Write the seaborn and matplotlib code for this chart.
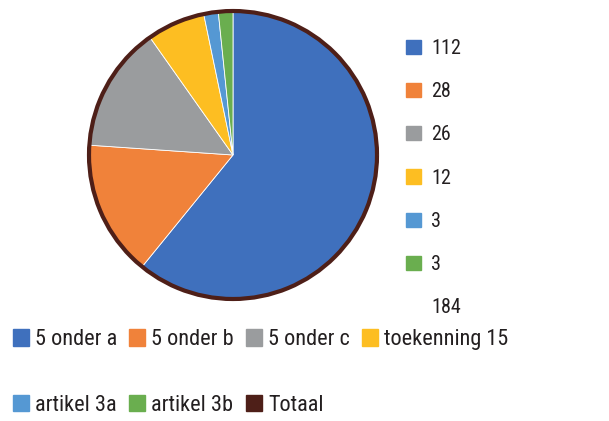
import matplotlib.pyplot as plt
import matplotlib.patches as mpatches
import seaborn as sns

# data
categories = ["5 onder a", "5 onder b", "5 onder c", "toekenning 15", "artikel 3a", "artikel 3b"]
values = [112, 28, 26, 12, 3, 3]
total_label = "Totaal"
total_value = 184

colors = ["#3f70bd", "#f0823a", "#9a9c9e", "#fdbe22", "#5598d3", "#6aae4f"]
total_color = "#4e1f18"

sns.set_theme(style="white")
plt.rcParams["font.family"] = ["Roboto Condensed", "DejaVu Sans"]
plt.rcParams["text.color"] = "#231f20"

fig = plt.figure(figsize=(6.09, 4.21), dpi=100)
ax = fig.add_axes([89 / 609, 1 - 299 / 421, 288 / 609, 288 / 421])

# slices, clockwise from the top
ax.pie(values, colors=colors, startangle=90, counterclock=False,
       wedgeprops={"edgecolor": "white", "linewidth": 0.6})
# "Totaal" series shows up as the dark outer ring
ax.pie([total_value], colors=["none"], startangle=90, counterclock=False,
       wedgeprops={"edgecolor": total_color, "linewidth": 3, "fill": False, "clip_on": False})
ax.set_xlim(-1, 1)
ax.set_ylim(-1, 1)
ax.set_aspect("equal")

# right legend: the values
val_handles = [mpatches.Patch(color=c) for c in colors] + [mpatches.Patch(color="none")]
val_labels = [str(v) for v in values] + [str(total_value)]
fig.legend(val_handles, val_labels, loc="upper left", bbox_to_anchor=(406 / 609, 1 - 39 / 421),
           frameon=False, fontsize=14.5, handlelength=0.75, handleheight=0.7,
           handletextpad=0.5, labelspacing=1.2, borderpad=0, borderaxespad=0)

# bottom legend: the categories, row by row
cat_handles = [mpatches.Patch(color=c) for c in colors] + [mpatches.Patch(color=total_color)]
cat_labels = categories + [total_label]
order = [0, 4, 1, 5, 2, 6, 3]
fig.legend([cat_handles[i] for i in order], [cat_labels[i] for i in order],
           loc="upper left", bbox_to_anchor=(13 / 609, 1 - 329 / 421),
           ncol=4, frameon=False, fontsize=16, handlelength=0.72, handleheight=0.78,
           handletextpad=0.27, columnspacing=0.55, labelspacing=2.0,
           borderpad=0, borderaxespad=0)

fig.savefig("out.png", dpi=100)
